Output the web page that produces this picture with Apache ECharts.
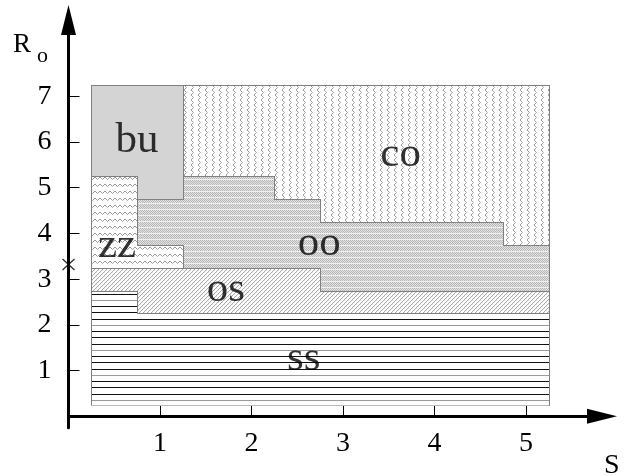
<!DOCTYPE html>
<html><head><meta charset="utf-8">
<script src="https://cdn.jsdelivr.net/npm/echarts@6/dist/echarts.min.js"></script>
<style>html,body{margin:0;padding:0;background:#fff}#c{width:636px;height:476px}</style>
</head><body><div id="c"></div>
<script>
// ---- data ----
const xCenters = [0.5, 1, 1.5, 2, 2.5, 3, 3.5, 4, 4.5, 5];           // S cell centres
const yCenters = [7, 6.5, 6, 5.5, 5, 4.5, 4, 3.5, 3, 2.5, 2, 1.5, 1, 0.5]; // R_o cell centres (top->bottom)
// phase codes per row (top -> bottom), one char per S column
const phaseRows = [
  'bbcccccccc',
  'bbcccccccc',
  'bbcccccccc',
  'bbcccccccc',
  'zboocccccc',
  'zooooccccc',
  'zooooooooc',
  'zzoooooooo',
  'pppppooooo',
  'sppppppppp',
  'ssssssssss',
  'ssssssssss',
  'ssssssssss',
  'ssssssssss'
];
const phaseNames = { b: 'bu', c: 'co', o: 'oo', z: 'zz', p: 'os', s: 'ss' };
const labelNames = ['bu', 'co', 'zz', 'oo', 'os', 'ss'];
const labelX = [0.75, 3.63, 0.53, 2.74, 1.72, 2.57];
const labelY = [6.02, 5.73, 3.74, 3.77, 2.76, 1.26];
const xTicks = [1, 2, 3, 4, 5];
const yTicks = [1, 2, 3, 4, 5, 6, 7];
const markX = [0];
const markY = [3.32];
const cellHalf = 0.25;

// ---- patterns ----
function mkPattern(w, h, draw) {
  const c = document.createElement('canvas');
  c.width = w; c.height = h;
  const g = c.getContext('2d');
  g.fillStyle = '#ffffff'; g.fillRect(0, 0, w, h);
  draw(g);
  return { image: c, repeat: 'repeat' };
}
const patterns = {
  b: '#d4d4d4',
  s: mkPattern(4, 25, g => {
    g.fillStyle = '#9a9a9a'; g.fillRect(0, 0, 4, 1);
    g.fillStyle = '#111111'; g.fillRect(0, 6, 4, 1); g.fillRect(0, 12, 4, 1); g.fillRect(0, 19, 4, 1);
  }),
  p: mkPattern(4, 4, g => {
    g.fillStyle = '#a8a8a8';
    g.fillRect(3, 0, 1, 1); g.fillRect(2, 1, 1, 1); g.fillRect(1, 2, 1, 1); g.fillRect(0, 3, 1, 1);
    g.fillStyle = '#e6e6e6'; g.fillRect(0, 0, 1, 1); g.fillRect(2, 2, 1, 1);
  }),
  o: mkPattern(2, 6, g => {
    g.fillStyle = '#e2e2e2'; g.fillRect(0, 0, 2, 6);
    g.fillStyle = '#b8b8b8';
    g.fillRect(0, 0, 1, 1); g.fillRect(1, 1, 1, 1); g.fillRect(0, 2, 1, 1);
    g.fillRect(1, 3, 1, 1); g.fillRect(0, 4, 1, 1);
    g.fillStyle = '#f0f0f0'; g.fillRect(0, 5, 2, 1);
  }),
  z: mkPattern(5, 7, g => {
    g.strokeStyle = '#9a9a9a'; g.lineWidth = 1;
    g.beginPath(); g.moveTo(0, 2); g.lineTo(2.5, 4.5); g.lineTo(5, 2); g.stroke();
  }),
  c: mkPattern(7, 5, g => {
    g.strokeStyle = '#a0a0a0'; g.lineWidth = 1;
    g.beginPath(); g.moveTo(2, 0); g.lineTo(4.5, 2.5); g.lineTo(2, 5); g.stroke();
  })
};

const cellData = [];
yCenters.forEach((y, ri) => xCenters.forEach((x, ci) => cellData.push([x, y, ci, ri])));
const nRows = yCenters.length, nCols = xCenters.length;
function phaseAt(r, c) {
  if (r < 0 || r >= nRows || c < 0 || c >= nCols) return null;
  return phaseRows[r][c];
}

function renderCell(params, api) {
  const x = api.value(0), y = api.value(1), ci = api.value(2), ri = api.value(3);
  const code = phaseRows[ri][ci];
  const p0 = api.coord([x - cellHalf, y + cellHalf]);
  const p1 = api.coord([x + cellHalf, y - cellHalf]);
  const x0 = Math.round(p0[0]), y0 = Math.round(p0[1]);
  const x1 = Math.round(p1[0]), y1 = Math.round(p1[1]);
  const children = [{
    type: 'rect', z2: 0,
    shape: { x: x0, y: y0, width: x1 - x0, height: y1 - y0 },
    style: { fill: patterns[code] }
  }];
  const ls = { stroke: '#808080', lineWidth: 1 };
  if (phaseAt(ri - 1, ci) !== code)
    children.push({ type: 'line', z2: 5, shape: { x1: x0, y1: y0 + 0.5, x2: x1 + 1, y2: y0 + 0.5 }, style: ls });
  if (phaseAt(ri, ci - 1) !== code)
    children.push({ type: 'line', z2: 5, shape: { x1: x0 + 0.5, y1: y0, x2: x0 + 0.5, y2: y1 + 1 }, style: ls });
  if (ri === nRows - 1)
    children.push({ type: 'line', z2: 5, shape: { x1: x0, y1: y1 + 0.5, x2: x1 + 1, y2: y1 + 0.5 }, style: { stroke: '#b8b8b8', lineWidth: 1 } });
  if (ci === nCols - 1)
    children.push({ type: 'line', z2: 5, shape: { x1: x1 + 0.5, y1: y0, x2: x1 + 0.5, y2: y1 + 1 }, style: ls });
  return { type: 'group', children };
}

const FONT = '"Liberation Serif", "Times New Roman", serif';
const chart = echarts.init(document.getElementById('c'), null, { renderer: 'canvas' });
chart.setOption({
  animation: false,
  backgroundColor: '#ffffff',
  grid: { left: 68.5, right: 34, top: 20, bottom: 48.3 },
  xAxis: {
    type: 'value', min: 0, max: 5.831,
    axisLine: { show: true, lineStyle: { color: '#000', width: 3 }, symbol: ['none', 'triangle'], symbolSize: [15, 30] },
    axisTick: { show: true, inside: true, length: 11, lineStyle: { color: '#000', width: 1 }, customValues: xTicks },
    axisLabel: { show: true, customValues: xTicks, margin: 2, color: '#000', fontFamily: FONT, fontSize: 28 },
    splitLine: { show: false }
  },
  yAxis: {
    type: 'value', min: -0.25, max: 8.67,
    axisLine: { show: true, lineStyle: { color: '#000', width: 3 }, symbol: ['none', 'triangle'], symbolSize: [15, 30] },
    axisTick: { show: true, inside: true, length: 11, lineStyle: { color: '#000', width: 1 }, customValues: yTicks },
    axisLabel: { show: true, customValues: yTicks, margin: 17, color: '#000', fontFamily: FONT, fontSize: 28 },
    splitLine: { show: false }
  },
  graphic: [
    { type: 'text', left: 13, top: 31, style: { text: 'R', fill: '#000', font: '27px ' + FONT } },
    { type: 'text', left: 37, top: 45, style: { text: 'o', fill: '#000', font: '22px ' + FONT } },
    { type: 'text', left: 604, top: 452, style: { text: 'S', fill: '#000', font: '28px ' + FONT } }
  ],
  series: [
    {
      type: 'custom', renderItem: renderCell, data: cellData, z: 2,
      encode: { x: 0, y: 1 }, clip: false, silent: true
    },
    {
      type: 'scatter', z: 5, symbolSize: 0, silent: true,
      data: labelNames.map((n, i) => ({ name: n, value: [labelX[i], labelY[i]] })),
      label: { show: true, position: 'inside', formatter: p => p.name, color: '#000', fontFamily: FONT, fontSize: 43 }
    },
    {
      type: 'scatter', z: 6, clip: false, silent: true,
      symbol: 'path://M0,0L10,10M10,0L0,10', symbolSize: [12, 11],
      itemStyle: { color: 'transparent', borderColor: '#000', borderWidth: 1.3 },
      data: markX.map((x, i) => [x, markY[i]])
    }
  ]
});
</script>
</body></html>
